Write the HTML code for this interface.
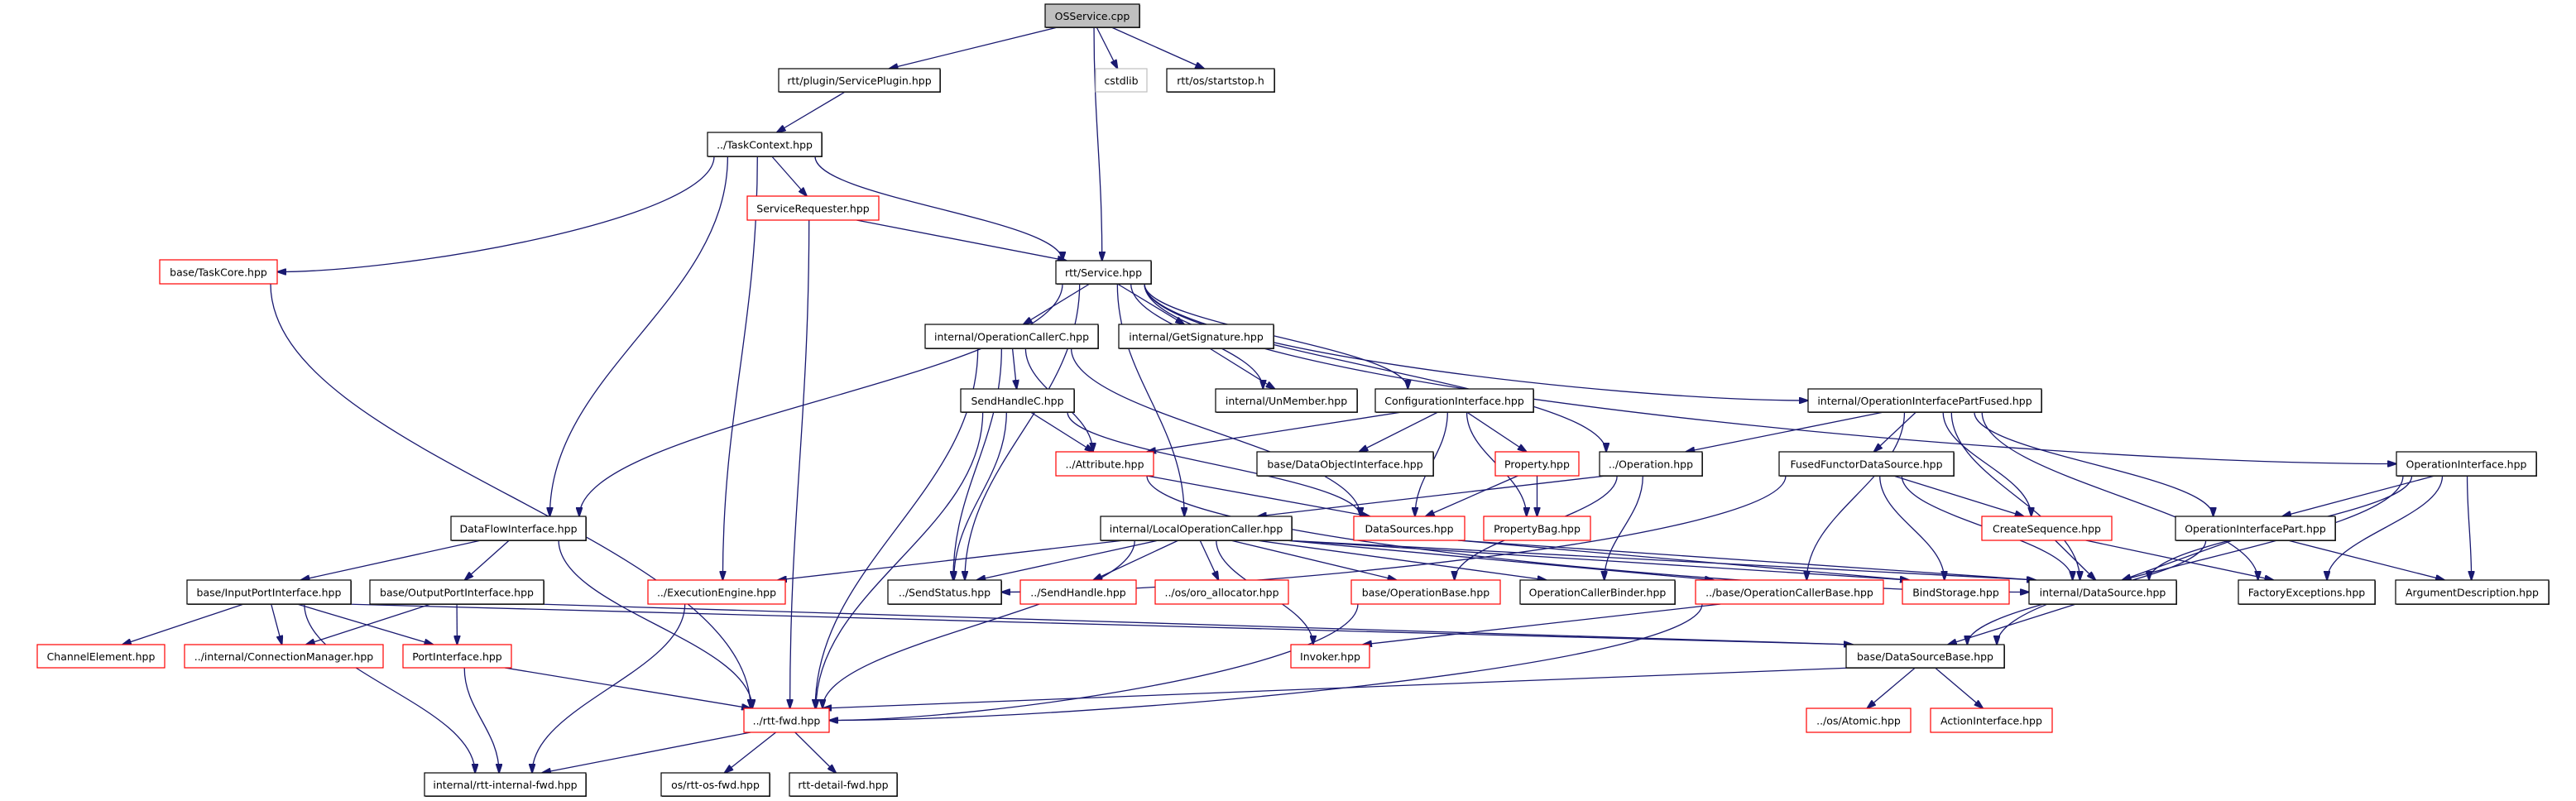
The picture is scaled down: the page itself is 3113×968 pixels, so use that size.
<!DOCTYPE html>
<html><head><meta charset="utf-8">
<style>
html,body{margin:0;padding:0;background:#fff;width:3113px;height:968px;overflow:hidden}
svg{display:block}
text{font-family:"DejaVu Sans","Liberation Sans",sans-serif;font-size:12.5px;fill:#000}
</style></head><body>
<svg id="g" xmlns="http://www.w3.org/2000/svg" width="3113" height="968" viewBox="0 0 3113 968">
<defs>
<marker id="ah" markerWidth="12" markerHeight="8" refX="11" refY="4" orient="auto" markerUnits="userSpaceOnUse">
<path d="M0,0 L12,4 L0,8 z" fill="#191970" stroke="#191970"/>
</marker>
</defs>
<g id="edges" fill="none" stroke="#191970" stroke-width="1.3"></g>
<g id="nodes"></g>
</svg>
<script>
var N={
OS:[1263,5,1377,33,"OSService.cpp","g"],
SP:[941,83,1136,111,"rtt/plugin/ServicePlugin.hpp","b"],
CS:[1324,83,1386,111,"cstdlib","l"],
SS:[1410,83,1540,111,"rtt/os/startstop.h","b"],
TC:[855,160,993,189,"../TaskContext.hpp","b"],
SR:[903,237,1062,266,"ServiceRequester.hpp","r"],
TK:[193,314,335,343,"base/TaskCore.hpp","r"],
SV:[1276,315,1391,343,"rtt/Service.hpp","b"],
OC:[1118,392,1327,421,"internal/OperationCallerC.hpp","b"],
GS:[1352,392,1539,421,"internal/GetSignature.hpp","b"],
SH:[1161,470,1298,498,"SendHandleC.hpp","b"],
UM:[1469,470,1640,498,"internal/UnMember.hpp","b"],
CI:[1662,470,1853,498,"ConfigurationInterface.hpp","b"],
PF:[2185,470,2467,498,"internal/OperationInterfacePartFused.hpp","b"],
AT:[1276,546,1394,575,"../Attribute.hpp","r"],
DO:[1519,546,1732,575,"base/DataObjectInterface.hpp","b"],
PR:[1807,546,1908,575,"Property.hpp","r"],
OP:[1933,546,2057,575,"../Operation.hpp","b"],
FF:[2150,546,2361,575,"FusedFunctorDataSource.hpp","b"],
OI:[2896,546,3065,575,"OperationInterface.hpp","b"],
DF:[545,624,708,653,"DataFlowInterface.hpp","b"],
LO:[1330,624,1561,653,"internal/LocalOperationCaller.hpp","b"],
DS:[1636,624,1770,653,"DataSources.hpp","r"],
PB:[1793,624,1922,653,"PropertyBag.hpp","r"],
CQ:[2395,624,2552,653,"CreateSequence.hpp","r"],
IP:[2629,624,2822,653,"OperationInterfacePart.hpp","b"],
IN:[226,701,424,730,"base/InputPortInterface.hpp","b"],
OU:[447,701,657,730,"base/OutputPortInterface.hpp","b"],
EE:[783,701,949,730,"../ExecutionEngine.hpp","r"],
ST:[1073,701,1210,730,"../SendStatus.hpp","b"],
SD:[1233,701,1373,730,"../SendHandle.hpp","r"],
OA:[1396,701,1557,730,"../os/oro_allocator.hpp","r"],
OB:[1633,701,1813,730,"base/OperationBase.hpp","r"],
CB:[1837,701,2024,730,"OperationCallerBinder.hpp","b"],
CE:[2049,701,2276,730,"../base/OperationCallerBase.hpp","r"],
BS:[2299,701,2428,730,"BindStorage.hpp","r"],
DA:[2452,701,2630,730,"internal/DataSource.hpp","b"],
FE:[2705,701,2870,730,"FactoryExceptions.hpp","b"],
AD:[2895,701,3080,730,"ArgumentDescription.hpp","b"],
CH:[45,779,199,807,"ChannelElement.hpp","r"],
CM:[223,779,463,807,"../internal/ConnectionManager.hpp","r"],
PI:[487,779,618,807,"PortInterface.hpp","r"],
IV:[1560,779,1655,807,"Invoker.hpp","r"],
DB:[2231,779,2422,807,"base/DataSourceBase.hpp","b"],
FW:[899,856,1002,885,"../rtt-fwd.hpp","r"],
AO:[2183,856,2309,885,"../os/Atomic.hpp","r"],
AI:[2333,856,2480,885,"ActionInterface.hpp","r"],
IF:[513,934,708,962,"internal/rtt-internal-fwd.hpp","b"],
OF:[799,934,930,962,"os/rtt-os-fwd.hpp","b"],
DT:[954,934,1084,962,"rtt-detail-fwd.hpp","b"]
};
var E="OS SP,OS CS,OS SS,OS SV,SP TC,TC TK,TC DF,TC EE,TC SR,TC SV,SR SV,SR FW,TK FW,SV OC,SV GS,SV UM,SV CI,SV OP,SV PF,SV OI,SV DF,SV LO,SV ST,OC SH,OC AT,OC FW,OC ST,OC DS,GS UM,SH AT,SH ST,SH FW,SH DS,CI AT,CI DO,CI PR,CI DS,CI PB,PR DS,PR PB,OP LO,OP OB,OP CB,AT DS,AT DA,PF OP,PF FF,PF CQ,PF IP,PF FE,PF DA,PF CE,OI IP,OI DA,OI FE,OI AD,OI DB,FF ST,FF CQ,FF BS,FF DA,CQ DA,CQ FE,IP DA,IP AD,IP DB,LO EE,LO ST,LO SD,LO OA,LO IV,LO OB,LO CB,LO CE,LO BS,LO DA,LO FW,DS BS,DS DA,DF IN,DF OU,DF FW,IN CH,IN CM,IN PI,IN IF,IN DB,OU CM,OU PI,OU DB,EE IF,PI FW,PI IF,FW IF,FW OF,FW DT,CE IV,CE FW,OB FW,DA DB,DB AO,DB AI,DB FW".split(",");
var NS="http://www.w3.org/2000/svg";
function el(t,a,p){var e=document.createElementNS(NS,t);for(var k in a)e.setAttribute(k,a[k]);p.appendChild(e);return e;}
var ge=document.getElementById("edges"),gn=document.getElementById("nodes");
function cl(v,a,b){return Math.max(a,Math.min(b,v));}
E.forEach(function(s){var p=s.split(" "),a=N[p[0]],b=N[p[1]];
 var acx=(a[0]+a[2])/2,bcx=(b[0]+b[2])/2;
 var d,sx,sy,tx,ty;
 if(b[1]>a[3]){
  sy=a[3];ty=b[1];
  sx=cl(acx+(bcx-acx)*0.15,a[0]+8,a[2]-8);
  tx=cl(bcx+(sx-bcx)*0.15,b[0]+8,b[2]-8);
  var dy=ty-sy;
  if(dy<100){
   d="M"+sx+","+sy+" L"+tx+","+ty;
  } else if(Math.abs(tx-sx)>3*dy){
   if(tx>sx){tx=b[0];}else{tx=b[2];}
   ty=(b[1]+b[3])/2;
   d="M"+sx+","+sy+" C"+sx+","+(sy+dy*0.6)+" "+(tx+(sx-tx)*0.3)+","+ty+" "+tx+","+ty;
  } else {
   d="M"+sx+","+sy+" C"+sx+","+(sy+dy*0.4)+" "+tx+","+(ty-dy*0.4)+" "+tx+","+ty;
  }
 } else {
  sx=bcx>acx?a[2]:a[0];sy=(a[1]+a[3])/2;tx=bcx>acx?b[0]:b[2];ty=(b[1]+b[3])/2;
  d="M"+sx+","+sy+" L"+tx+","+ty;
 }
 el("path",{d:d,"marker-end":"url(#ah)"},ge);
});
for(var k in N){var n=N[k],w=n[2]-n[0],h=n[3]-n[1];
 var st=n[5]=="r"?"#ff0000":n[5]=="l"?"#bfbfbf":"#000000";
 var fill=n[5]=="g"?"#bfbfbf":"#ffffff";
 if(n[5]=="b"||n[5]=="g") el("rect",{x:n[0]+1,y:n[1]+1,width:w,height:h,fill:"#404040"},gn);
 el("rect",{x:n[0],y:n[1],width:w,height:h,fill:fill,stroke:st,"stroke-width":1.2},gn);
 var t=el("text",{x:n[0]+w/2,y:n[1]+h/2+5,"text-anchor":"middle"},gn);t.textContent=n[4];
}
</script>
</body></html>
